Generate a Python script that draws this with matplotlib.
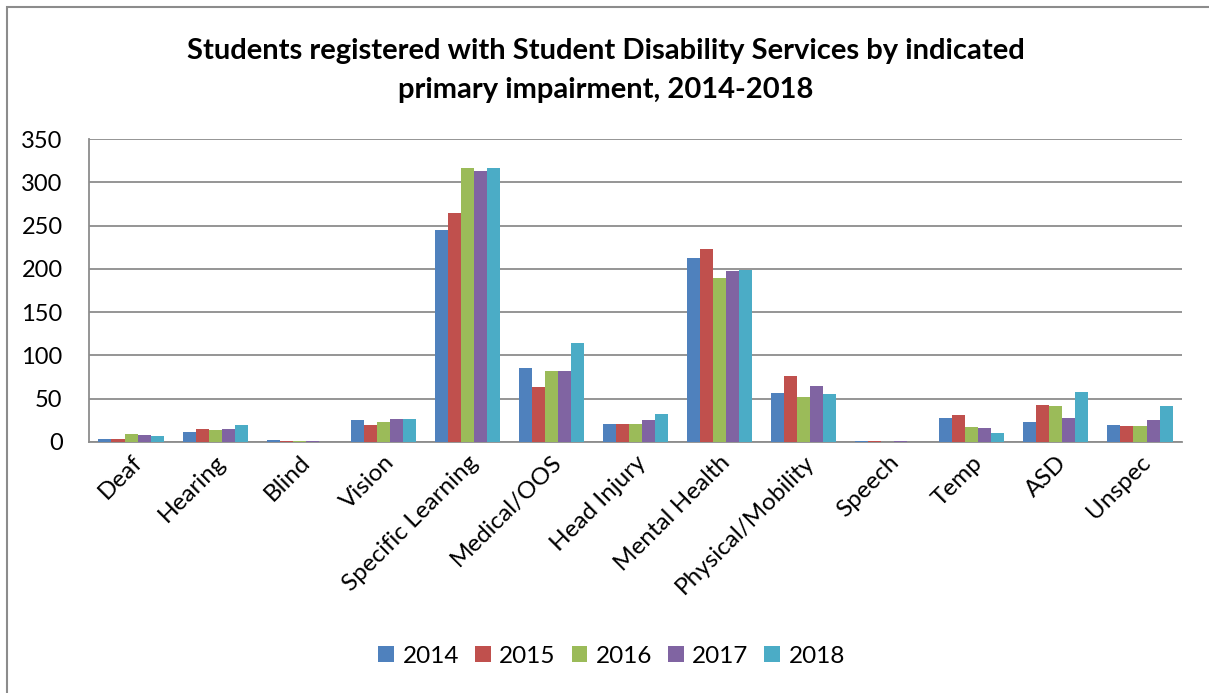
import numpy as np
import matplotlib
matplotlib.use('Agg')
import matplotlib.pyplot as plt
from matplotlib.patches import Rectangle

plt.rcParams['font.family'] = ['Lato', 'DejaVu Sans']

# 障碍类别
categories = ['Deaf', 'Hearing', 'Blind', 'Vision', 'Specific Learning', 'Medical/OOS',
              'Head Injury', 'Mental Health', 'Physical/Mobility', 'Speech', 'Temp',
              'ASD', 'Unspec']
years = ['2014', '2015', '2016', '2017', '2018']

# 每年各类别的注册人数
y2014 = [3, 11, 2, 25, 245, 85, 21, 212, 57, 1, 28, 23, 20]
y2015 = [3, 15, 1, 20, 265, 64, 21, 223, 76, 1, 31, 43, 18]
y2016 = [9, 14, 1, 23, 316, 82, 21, 190, 52, 0, 17, 42, 18]
y2017 = [8, 15, 1, 27, 313, 82, 25, 197, 65, 1, 16, 28, 25]
y2018 = [7, 20, 0, 27, 317, 114, 32, 199, 56, 0, 10, 58, 42]
yticks = [0, 50, 100, 150, 200, 250, 300, 350]

colors = ['#4F81BD', '#C0504D', '#9BBB59', '#8064A2', '#4BACC6']
series = [y2014, y2015, y2016, y2017, y2018]

fig = plt.figure(figsize=(12.09, 6.93), dpi=100)
ax = fig.add_axes([0.0736, 0.3622, 0.9041, 0.4372])

x = np.arange(len(categories))
w = 0.155
for i, (vals, c, yr) in enumerate(zip(series, colors, years)):
    ax.bar(x + (i - 2) * w, vals, width=w, color=c, label=yr, zorder=3)

ax.set_xlim(-0.5, len(categories) - 0.5)
ax.set_ylim(0, 350)
ax.set_yticks(yticks)
ax.set_yticklabels([str(v) for v in yticks], fontsize=17)
ax.grid(axis='y', color='#8C8C8C', linewidth=1.3, zorder=0)
ax.tick_params(axis='y', length=0, pad=19)
ax.tick_params(axis='x', length=0, pad=7)
ax.set_xticks(x)
ax.set_xticklabels(categories, rotation=45, ha='right', rotation_mode='anchor', fontsize=17.5)

for s in ['top', 'right']:
    ax.spines[s].set_visible(False)
for s in ['left', 'bottom']:
    ax.spines[s].set_color('#8C8C8C')
    ax.spines[s].set_linewidth(1.3)

fig.text(0.501, 0.927, 'Students registered with Student Disability Services by indicated',
         ha='center', va='center', fontsize=21, fontweight='bold')
fig.text(0.501, 0.870, 'primary impairment, 2014-2018',
         ha='center', va='center', fontsize=21, fontweight='bold')

fig.legend(loc='center', bbox_to_anchor=(0.506, 0.053), ncol=5, frameon=False,
           fontsize=17.5, handlelength=0.65, handleheight=0.65, handletextpad=0.35,
           columnspacing=0.65)

# 外边框
fig.patches.append(Rectangle((7 / 1209, -0.1), 1.2, 1 - 7 / 693 + 0.1, transform=fig.transFigure,
                             fill=False, edgecolor='#8C8C8C', linewidth=1.5))

fig.savefig('out.png', dpi=100)
